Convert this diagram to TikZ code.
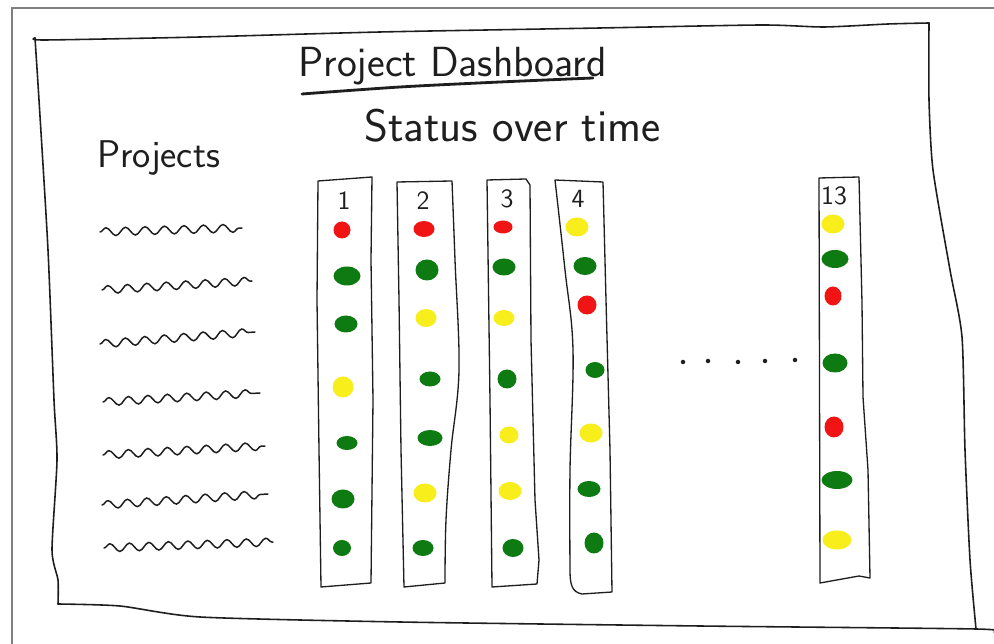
\documentclass[tikz,border=0pt]{standalone}
\usetikzlibrary{shapes.geometric,decorations.pathmorphing}
\definecolor{ink}{HTML}{1E1E1E}
\definecolor{dred}{HTML}{F01414}
\definecolor{dgreen}{HTML}{0E7A12}
\definecolor{dyellow}{HTML}{F7EE1C}
\definecolor{frame}{HTML}{808080}
\tikzset{
  sketch/.style={draw=ink, line width=0.75pt, line join=round, line cap=round},
  frameline/.style={draw=frame, line width=1.1pt},
  squig/.style={draw=ink, line width=0.85pt, line cap=round, decorate,
    decoration={snake, segment length=3.9mm, amplitude=0.8mm}},
  dot/.style={ellipse, draw=none, inner sep=0pt},
  num/.style={font=\sffamily\fontsize{15}{17}\selectfont, text=ink, inner sep=0pt},
  elli/.style={circle, fill=ink, inner sep=0pt, minimum size=0.9mm}
}
\begin{document}
\begin{tikzpicture}[x=0.02cm, y=-0.02cm]
\useasboundingbox (0,0) rectangle (994,644);
\fill[white] (0,0) rectangle (994,644);
% outer grey frame of the picture
\draw[frameline] (12,644) -- (12,8) -- (994,8);
% hand drawn sheet
\draw[sketch, line width=0.9pt] plot[smooth, tension=0.4] coordinates
  {(35,38) (45,40) (200,37) (380,32) (600,28) (761,25) (824,27) (888,24) (929,23)};
\draw[sketch, line width=0.9pt] plot[smooth, tension=0.4] coordinates
  {(929,23) (929,100) (933,170) (950,270) (962,337) (965,450) (970,560) (976,629)};
\draw[sketch, line width=0.9pt] plot[smooth, tension=0.4] coordinates
  {(35,38) (39,100) (48,250) (54,400) (57,460) (52,550) (58,580) (58,604)};
\draw[sketch, line width=0.9pt] plot[smooth, tension=0.4] coordinates
  {(58,604) (120,606) (200,617) (400,622) (700,626) (976,629) (994,632)};
% titles
\node[font=\sffamily\fontsize{24}{28}\selectfont, text=ink, anchor=base west, inner sep=0pt] (title) at (298,77) {Project Dashboard};
\draw[sketch, line width=1.6pt] plot[smooth, tension=0.5] coordinates {(302,94) (400,87) (500,82) (593,78)};
\node[font=\sffamily\fontsize{26}{30}\selectfont, text=ink, anchor=base west, inner sep=0pt] (status) at (364,142) {Status over time};
\node[font=\sffamily\fontsize{22}{26}\selectfont, text=ink, anchor=base west, inner sep=0pt] (projects) at (97,168) {Projects};
% project squiggles
\draw[squig] (100,232) -- (242,228);
\draw[squig] (102,290) -- (252,281);
\draw[squig] (100,344) -- (255,332);
\draw[squig] (103,402) -- (260,393);
\draw[squig] (103,455) -- (265,446);
\draw[squig] (102,505) -- (268,494);
\draw[squig] (104,548) -- (273,542);
% columns
\draw[sketch] (318,181) -- (372,177) -- (371,260) -- (373,400) -- (371,583) -- (321,587) -- (319,450) -- (317,300) -- cycle;
\draw[sketch] (397,182) -- (452,181) -- plot[smooth, tension=0.6] coordinates {(452,181) (455,260) (459,370) (451,450) (446,520) (445,583)}
  -- (404,587) -- (401,450) -- (399,300) -- cycle;
\draw[sketch] (487,180) -- (526,179) -- (530,185) -- (531,340) -- (535,500) -- (539,560) -- (537,584) -- (492,587) -- (490,400) -- cycle;
\draw[sketch] (555,180) -- (603,182) -- (606,300) -- (610,450) -- (612,592) -- (582,594)
  .. controls (572,592) and (570,585) .. (570,570)
  -- plot[smooth, tension=0.6] coordinates {(570,570) (570,470) (573,350) (565,270) (555,180)};
\draw[sketch] (819,178) -- (859,177) -- (862,303) -- (863,397) -- (868,470) -- (870,578) -- (859,576) -- (820,583) -- cycle;
% column numbers
\node[num] (n1) at (344,201) {1};
\node[num] (n2) at (423,201) {2};
\node[num] (n3) at (507,199) {3};
\node[num] (n4) at (578,199) {4};
\node[num] (n13) at (834,196) {13};
% status dots
\foreach \x/\y/\c/\w/\h [count=\i] in {
  342/230/dred/17/17, 347/276/dgreen/27/19, 346/324/dgreen/23/17, 343/387/dyellow/21/21,
  347/443/dgreen/21/14, 343/499/dgreen/23/19, 342/548/dgreen/18/16,
  424/229/dred/21/16, 427/270/dgreen/23/21, 426/318/dyellow/21/18, 430/379/dgreen/21/15,
  430/438/dgreen/25/16, 425/493/dyellow/23/19, 423/548/dgreen/21/16,
  503/227/dred/19/13, 504/267/dgreen/23/17, 504/318/dyellow/21/16, 507/379/dgreen/19/19,
  509/435/dyellow/19/17, 510/491/dyellow/23/18, 513/548/dgreen/21/18,
  577/227/dyellow/23/19, 585/266/dgreen/23/18, 587/305/dred/19/19, 595/370/dgreen/19/16,
  591/433/dyellow/23/19, 589/489/dgreen/23/16, 594/543/dgreen/19/21,
  833/224/dyellow/23/19, 835/259/dgreen/27/18, 833/296/dred/17/19, 835/363/dgreen/25/19,
  834/427/dred/19/21, 837/480/dgreen/31/18, 837/540/dyellow/29/19}
  \node[dot, fill=\c, minimum width=\w*0.2mm, minimum height=\h*0.2mm] (d\i) at (\x,\y) {};
% ellipsis between column 4 and 13
\foreach \x/\y [count=\i] in {683/362, 708/361, 738/362, 765/361, 795/360}
  \node[elli] (e\i) at (\x,\y) {};
\end{tikzpicture}
\end{document}
